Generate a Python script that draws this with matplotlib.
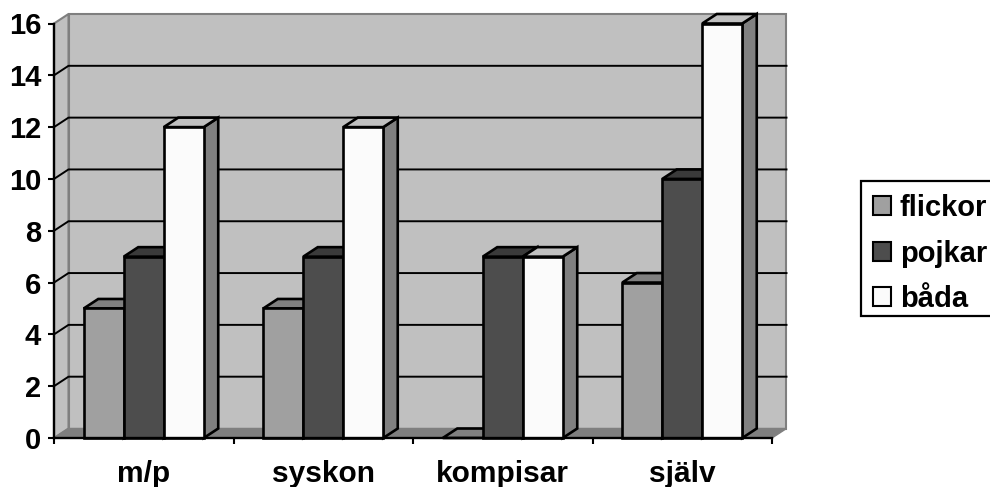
import matplotlib
matplotlib.use("Agg")
import matplotlib.pyplot as plt
from matplotlib.patches import Polygon, Patch, Rectangle

plt.rcParams["font.family"] = ["Liberation Sans", "DejaVu Sans"]

categories = ["m/p", "syskon", "kompisar", "själv"]
flickor = [5, 5, 0, 6]
pojkar = [7, 7, 7, 10]
bada = [12, 12, 7, 16]
series_names = ["flickor", "pojkar", "båda"]
y_ticks = [0, 2, 4, 6, 8, 10, 12, 14, 16]

# front, top, side
colors = [("#a0a0a0", "#808080", "#505050"),
          ("#4d4d4d", "#3a3a3a", "#262626"),
          ("#fbfbfb", "#c0c0c0", "#808080")]
WALL = "#c0c0c0"
FLOOR = "#7f7f7f"

W, H = 990, 487
fig = plt.figure(figsize=(W / 100, H / 100), dpi=100)
# pixel box of the front plane
left, right, bottom, top = 54, 772, 438, 23.5
ax = fig.add_axes([left / W, 1 - bottom / H, (right - left) / W, (bottom - top) / H])
ax.set_xlim(0, len(categories))
ax.set_ylim(0, 16)

# depth of the fake 3D, in data units
dx = 14.5 / ((right - left) / len(categories))
dy = 9.5 / ((bottom - top) / 16)
nx = len(categories)
ymax = y_ticks[-1]


def poly(pts, fc, ec="black", lw=1.9, z=2):
    ax.add_patch(Polygon(pts, closed=True, facecolor=fc, edgecolor=ec, linewidth=lw,
                         zorder=z, clip_on=False, joinstyle="miter"))


# walls and floor
poly([(dx, dy), (nx + dx, dy), (nx + dx, ymax + dy), (dx, ymax + dy)], WALL, "#7f7f7f", 1.5, 1)
poly([(0, 0), (dx, dy), (dx, ymax + dy), (0, ymax)], WALL, "#7f7f7f", 1.5, 1)
poly([(0, 0), (nx, 0), (nx + dx, dy), (dx, dy)], FLOOR, FLOOR, 1, 1)

# gridlines on back and side wall
for t in y_ticks[1:-1]:
    ax.plot([0, dx, nx + dx], [t, t + dy, t + dy], color="black", lw=1.4, zorder=1.5, clip_on=False)

# bars
bar_w = 0.2228
gap = (1 - 3 * bar_w) / 2
all_series = [flickor, pojkar, bada]
z = 3
for c in range(len(categories)):
    for s, values in enumerate(all_series):
        v = values[c]
        x0 = c + gap + s * bar_w
        x1 = x0 + bar_w
        front, top_c, side = colors[s]
        poly([(x1, 0), (x1 + dx, dy), (x1 + dx, v + dy), (x1, v)], side, z=z)
        poly([(x0, v), (x1, v), (x1 + dx, v + dy), (x0 + dx, v + dy)], top_c, z=z)
        if v > 0:
            poly([(x0, 0), (x1, 0), (x1, v), (x0, v)], front, z=z)
        z += 0.1

# axes
for name in ["top", "right"]:
    ax.spines[name].set_visible(False)
for name in ["left", "bottom"]:
    ax.spines[name].set_linewidth(1.7)
    ax.spines[name].set_zorder(20)
ax.set_yticks(y_ticks)
ax.set_yticklabels([str(t) for t in y_ticks], fontsize=21, fontweight="bold")
ax.set_xticks(range(nx + 1))
ax.set_xticklabels([])
ax.set_xticks([i + 0.5 for i in range(nx)], labels=categories, minor=True)
ax.tick_params(axis="x", which="minor", length=0, pad=15.5, labelsize=21.5)
for lab in ax.get_xticklabels(minor=True):
    lab.set_fontweight("bold")
ax.tick_params(axis="x", which="major", length=4.3, width=1.5)
ax.tick_params(axis="y", length=4.3, width=1.5, pad=5)

# legend box drawn apart so the rows can sit as in the original,
# its right edge runs off the picture
fig.add_artist(Rectangle((861 / W, 1 - 316 / H), 140 / W, 135 / H, transform=fig.transFigure,
                         facecolor="white", edgecolor="black", linewidth=1.6, zorder=4))
handles = [Patch(facecolor=colors[i][0], edgecolor="black", linewidth=1.5, label=series_names[i])
           for i in range(3)]
leg = fig.legend(handles=handles, loc="upper left", bbox_to_anchor=(873 / W, 1 - 194 / H),
                 borderaxespad=0, prop={"weight": "bold", "size": 21},
                 handlelength=0.62, handleheight=0.62, handletextpad=0.3,
                 labelspacing=0.6, borderpad=0, frameon=False)
leg.set_zorder(5)

fig.savefig("out.png", dpi=100)
